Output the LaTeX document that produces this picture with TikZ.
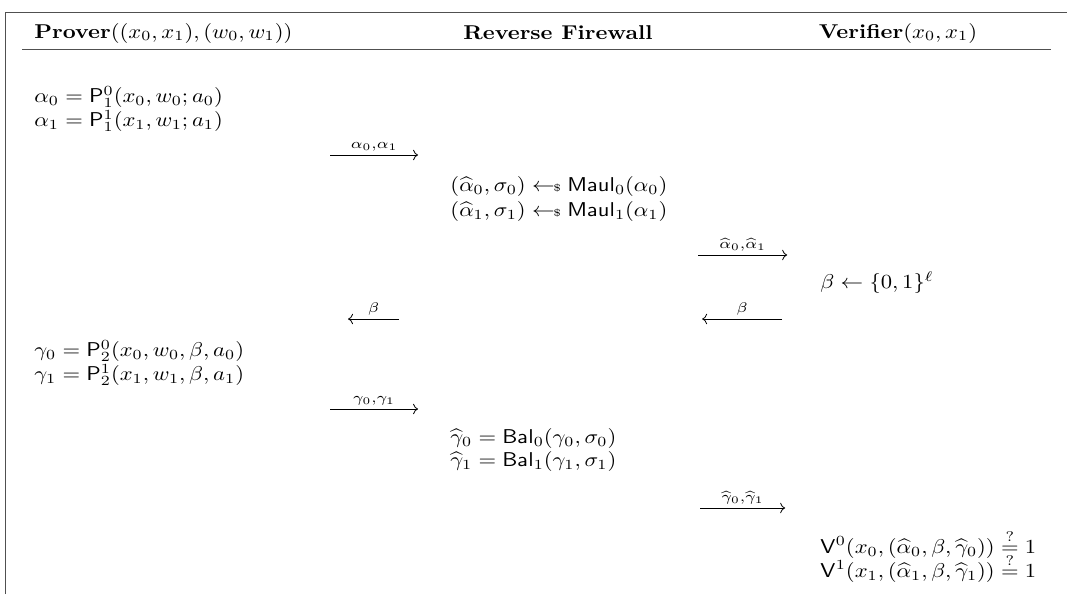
\documentclass[tikz,border=0pt]{standalone}
\usepackage{amsmath,amssymb}
\usetikzlibrary{arrows.meta}
\newcommand{\smp}{\mathrel{\leftarrow\mkern-6mu{\scriptscriptstyle\$}}}
\definecolor{framegray}{RGB}{80,80,80}
\begin{document}
\begin{tikzpicture}[x=0.44248pt,y=-0.5pt,xscale=1.13,
  every node/.append style={transform shape},
  txt/.style={anchor=west, inner sep=0pt},
  hdr/.style={inner sep=0pt},
  rule/.style={draw=framegray, line width=0.45pt},
  msg/.style={->, line width=0.4pt},
  lbl/.style={inner sep=1.5pt, above}]
\useasboundingbox (0,0) rectangle (1067,594);
% frame
\coordinate (ftl) at (5,12);
\coordinate (ftr) at (1067,12);
\coordinate (fbl) at (5,594);
\draw[rule] (fbl) -- (ftl) -- (ftr);
% headers
\node[hdr, anchor=west] (hp) at (34,33) {\textbf{Prover}$((x_0,x_1),(w_0,w_1))$};
\node[hdr] (hr) at (558,33) {\textbf{Reverse Firewall}};
\node[hdr] (hv) at (898,33) {\textbf{Verifier}$(x_0,x_1)$};
\coordinate (hl) at (22,49);
\coordinate (hrr) at (1051,49);
\draw[rule] (hl) -- (hrr);
% prover round 1
\node[txt] (a0) at (34,97) {$\alpha_0 = \mathsf{P}^0_1(x_0,w_0;a_0)$};
\node[txt] (a1) at (34,121) {$\alpha_1 = \mathsf{P}^1_1(x_1,w_1;a_1)$};
\coordinate (m1s) at (330,155); \coordinate (m1e) at (418,155);
\draw[msg] (m1s) -- node[lbl] (l1) {$\scriptstyle\alpha_0,\alpha_1$} (m1e);
% firewall maul
\node[txt] (r0) at (450,186) {$(\widehat{\alpha}_0,\sigma_0) \smp \mathsf{Maul}_0(\alpha_0)$};
\node[txt] (r1) at (450,211) {$(\widehat{\alpha}_1,\sigma_1) \smp \mathsf{Maul}_1(\alpha_1)$};
\coordinate (m2s) at (698,255); \coordinate (m2e) at (787,255);
\draw[msg] (m2s) -- node[lbl] (l2) {$\scriptstyle\widehat{\alpha}_0,\widehat{\alpha}_1$} (m2e);
% verifier challenge
\node[txt] (vb) at (820,283) {$\beta \leftarrow \{0,1\}^\ell$};
\coordinate (m3s) at (782,319); \coordinate (m3e) at (702,319);
\draw[msg] (m3s) -- node[lbl] (l3) {$\scriptstyle\beta$} (m3e);
\coordinate (m4s) at (399,319); \coordinate (m4e) at (348,319);
\draw[msg] (m4s) -- node[lbl] (l4) {$\scriptstyle\beta$} (m4e);
% prover round 2
\node[txt] (g0) at (34,351) {$\gamma_0 = \mathsf{P}^0_2(x_0,w_0,\beta,a_0)$};
\node[txt] (g1) at (34,375) {$\gamma_1 = \mathsf{P}^1_2(x_1,w_1,\beta,a_1)$};
\coordinate (m5s) at (330,409); \coordinate (m5e) at (418,409);
\draw[msg] (m5s) -- node[lbl] (l5) {$\scriptstyle\gamma_0,\gamma_1$} (m5e);
% firewall balance
\node[txt] (b0) at (450,438) {$\widehat{\gamma}_0 = \mathsf{Bal}_0(\gamma_0,\sigma_0)$};
\node[txt] (b1) at (450,461) {$\widehat{\gamma}_1 = \mathsf{Bal}_1(\gamma_1,\sigma_1)$};
\coordinate (m6s) at (700,508); \coordinate (m6e) at (785,508);
\draw[msg] (m6s) -- node[lbl] (l6) {$\scriptstyle\widehat{\gamma}_0,\widehat{\gamma}_1$} (m6e);
% verifier checks
\node[txt] (v0) at (820,544) {$\mathsf{V}^0(x_0,(\widehat{\alpha}_0,\beta,\widehat{\gamma}_0)) \stackrel{?}{=} 1$};
\node[txt] (v1) at (820,568) {$\mathsf{V}^1(x_1,(\widehat{\alpha}_1,\beta,\widehat{\gamma}_1)) \stackrel{?}{=} 1$};
\end{tikzpicture}
\end{document}
